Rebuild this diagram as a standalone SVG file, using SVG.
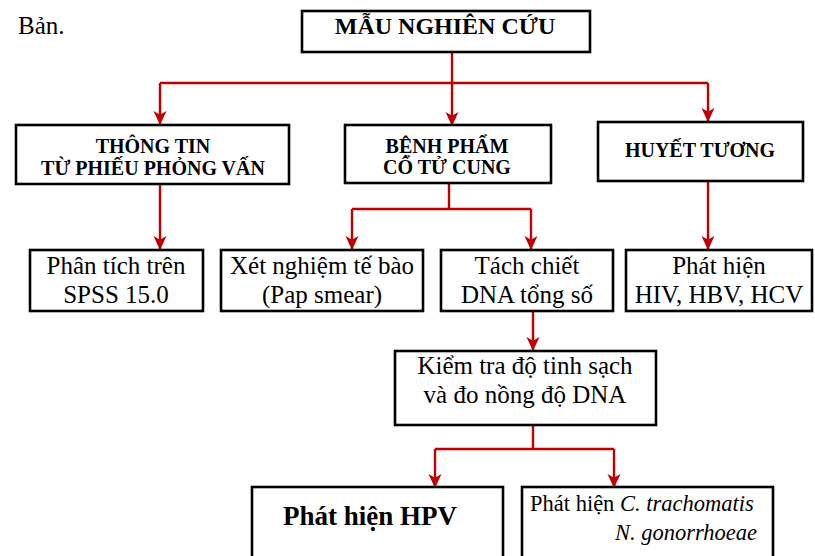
<svg xmlns="http://www.w3.org/2000/svg" width="815" height="556" viewBox="0 0 815 556">
<defs>
<marker id="ah" markerUnits="userSpaceOnUse" markerWidth="14" markerHeight="15" viewBox="0 0 15 14" refX="14" refY="7" orient="auto">
<path d="M0,0 L15,7 L0,14 L4,7 z" fill="#C00000"/>
</marker>
<style>
.box{fill:#fff;stroke:#000;stroke-width:2.6}
.c{fill:none;stroke:#C00000;stroke-width:2.4}
.a{fill:none;stroke:#C00000;stroke-width:2.4;marker-end:url(#ah)}
.t{font-family:"Liberation Serif","Times New Roman",serif;fill:#000}
.b{font-weight:bold}
.m{text-anchor:middle}
.r{font-size:25px}
.s{font-size:20px}
</style>
</defs>
<rect width="815" height="556" fill="#fff"/>
<text class="t r" x="18" y="34">Bản.</text>
<g id="connectors">
<path class="c" d="M452,52 V83 M160,83 H708"/>
<path class="a" d="M160,83 V124"/>
<path class="a" d="M452,83 V125"/>
<path class="a" d="M708,83 V121"/>
<path class="a" d="M160,184 V249"/>
<path class="c" d="M449,183 V209 M352,209 H531"/>
<path class="a" d="M352,209 V249"/>
<path class="a" d="M531,209 V249"/>
<path class="a" d="M708,181 V249"/>
<path class="a" d="M533,311 V350"/>
<path class="c" d="M533,425 V449 M435,449 H614"/>
<path class="a" d="M435,449 V487"/>
<path class="a" d="M614,449 V487"/>
</g>
<g id="n-mau">
<rect class="box" x="302" y="11" width="288" height="41"/>
<text class="t b m" x="445" y="34" font-size="24">MẪU NGHIÊN CỨU</text>
</g>
<g id="n-thongtin">
<rect class="box" x="16" y="125" width="273" height="59"/>
<text class="t b m s" x="153" y="153">THÔNG TIN</text>
<text class="t b m s" x="153" y="175">TỪ PHIẾU PHỎNG VẤN</text>
</g>
<g id="n-benhpham">
<rect class="box" x="345" y="125" width="206" height="58"/>
<text class="t b m s" x="447" y="153">BỆNH PHẨM</text>
<text class="t b m s" x="447" y="174">CỔ TỬ CUNG</text>
</g>
<g id="n-huyettuong">
<rect class="box" x="598" y="122" width="205" height="59"/>
<text class="t b m s" x="700" y="157">HUYẾT TƯƠNG</text>
</g>
<g id="n-spss">
<rect class="box" x="30" y="250" width="173" height="61"/>
<text class="t m r" x="116" y="274">Phân tích trên</text>
<text class="t m r" x="116" y="303">SPSS 15.0</text>
</g>
<g id="n-xetnghiem">
<rect class="box" x="221" y="250" width="202" height="61"/>
<text class="t m r" x="322" y="274">Xét nghiệm tế bào</text>
<text class="t m r" x="322" y="303">(Pap smear)</text>
</g>
<g id="n-tachchiet">
<rect class="box" x="441" y="250" width="172" height="61"/>
<text class="t m r" x="527" y="274">Tách chiết</text>
<text class="t m r" x="527" y="303">DNA tổng số</text>
</g>
<g id="n-hiv">
<rect class="box" x="626" y="250" width="186" height="61"/>
<text class="t m r" x="719" y="274">Phát hiện</text>
<text class="t m r" x="719" y="303">HIV, HBV, HCV</text>
</g>
<g id="n-kiemtra">
<rect class="box" x="395" y="351" width="261" height="74"/>
<text class="t m r" x="525" y="374">Kiểm tra độ tinh sạch</text>
<text class="t m r" x="525" y="403">và đo nồng độ DNA</text>
</g>
<g id="n-hpv">
<rect class="box" x="252" y="487" width="251" height="90"/>
<text class="t b m" x="370" y="525" font-size="27">Phát hiện HPV</text>
</g>
<g id="n-ct">
<rect class="box" x="522" y="487" width="251" height="90"/>
<text class="t" x="530" y="511" font-size="22.5">Phát hiện <tspan font-style="italic">C. trachomatis</tspan></text>
<text class="t" x="757" y="540" font-size="22.5" font-style="italic" text-anchor="end">N. gonorrhoeae</text>
</g>
</svg>
